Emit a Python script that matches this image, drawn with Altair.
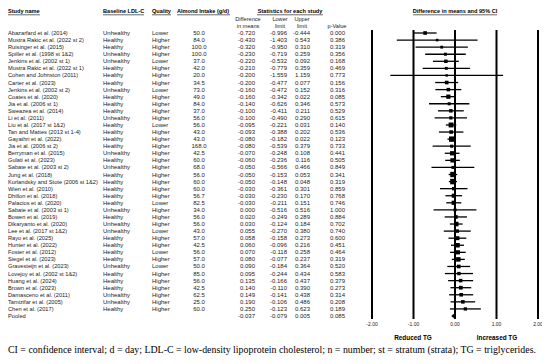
import altair as alt
import pandas as pd

studies = [
    "Abazarfard et al. (2014)", "Mustra Rakic et al. (2022 st 2)", "Ruisinger et al. (2015)",
    "Spiller et al. (1998 st 1&2)", "Jenkins et al. (2002 st 1)", "Mustra Rakic et al. (2022 st 1)",
    "Cohen and Johnston (2011)", "Carter et al. (2023)", "Jenkins et al. (2002 st 2)",
    "Coates et al. (2020)", "Jia et al. (2006 st 1)", "Sweazea et al. (2014)", "Li et al. (2011)",
    "Liu et al. (2017 st 1&2)", "Tan and Mattes (2013 st 1-4)", "Gayathri et al. (2022)",
    "Jia et al. (2006 st 2)", "Berryman et al. (2015)", "Gulati et al. (2023)",
    "Sabate et al. (2003 st 2)", "Jung et al. (2018)", "Kurlandsky and Stote (2006 st 1&2)",
    "Wien et al. (2010)", "Dhillon et al. (2018)", "Palacios et al. (2020)",
    "Sabate et al. (2003 st 1)", "Bowen et al. (2019)", "Dikaryanto et al. (2020)",
    "Lee et al. (2017 st 1&2)", "Rayo et al. (2025)", "Hunter et al. (2022)", "Foster et al. (2012)",
    "Siegel et al. (2023)", "Gravesteijn et al. (2023)", "Lovejoy et al. (2002 st 1&2)",
    "Huang et al. (2024)", "Brown et al. (2023)", "Damasceno et al. (2011)",
    "Tamizifar et al. (2005)", "Chen et al. (2017)",
]
baseline = [
    "Unhealthy", "Healthy", "Healthy", "Unhealthy", "Unhealthy", "Healthy", "Healthy", "Healthy",
    "Unhealthy", "Healthy", "Healthy", "Healthy", "Unhealthy", "Healthy", "Healthy", "Healthy",
    "Healthy", "Unhealthy", "Healthy", "Unhealthy", "Healthy", "Healthy", "Healthy", "Healthy",
    "Healthy", "Unhealthy", "Healthy", "Unhealthy", "Unhealthy", "Healthy", "Healthy", "Healthy",
    "Healthy", "Unhealthy", "Healthy", "Healthy", "Healthy", "Unhealthy", "Unhealthy", "Healthy",
]
quality = [
    "Lower", "Higher", "Higher", "Higher", "Lower", "Higher", "Higher", "Higher", "Lower", "Higher",
    "Higher", "Higher", "Higher", "Lower", "Higher", "Higher", "Higher", "Higher", "Higher", "Higher",
    "Higher", "Higher", "Higher", "Higher", "Lower", "Higher", "Higher", "Higher", "Lower", "Higher",
    "Higher", "Lower", "Higher", "Lower", "Higher", "Higher", "Higher", "Higher", "Higher", "Higher",
]
intake = [50.0, 84.0, 100.0, 100.0, 37.0, 42.0, 20.0, 34.5, 73.0, 49.0,
          84.0, 37.0, 56.0, 56.0, 43.0, 43.0, 168.0, 42.5, 60.0, 68.0,
          56.0, 60.0, 60.0, 56.7, 82.5, 34.0, 56.0, 56.0, 43.0, 57.0,
          42.5, 56.0, 57.0, 50.0, 85.0, 56.0, 42.5, 62.5, 25.0, 60.0]
diff = [-0.720, -0.430, -0.320, -0.230, -0.220, -0.210, -0.200, -0.200, -0.160, -0.160,
        -0.140, -0.100, -0.100, -0.095, -0.093, -0.080, -0.080, -0.070, -0.060, -0.050,
        -0.050, -0.050, -0.030, -0.030, -0.030, 0.000, 0.020, 0.030, 0.055, 0.058,
        0.060, 0.070, 0.080, 0.090, 0.095, 0.135, 0.140, 0.149, 0.190, 0.250]
lower = [-0.996, -1.403, -0.950, -0.719, -0.532, -0.779, -1.559, -0.477, -0.472, -0.342,
         -0.626, -0.411, -0.490, -0.221, -0.388, -0.182, -0.539, -0.248, -0.236, -0.566,
         -0.153, -0.148, -0.361, -0.230, -0.211, -0.516, -0.249, -0.124, -0.270, -0.158,
         -0.096, -0.118, -0.077, -0.184, -0.244, -0.166, -0.110, -0.141, -0.106, -0.123]
upper = [-0.444, 0.543, 0.310, 0.259, 0.092, 0.359, 1.159, 0.077, 0.152, 0.022,
         0.346, 0.211, 0.290, 0.031, 0.202, 0.022, 0.379, 0.108, 0.116, 0.466,
         0.053, 0.048, 0.301, 0.170, 0.151, 0.516, 0.289, 0.184, 0.380, 0.273,
         0.216, 0.258, 0.237, 0.364, 0.434, 0.437, 0.390, 0.438, 0.486, 0.623]
pvalue = [0.000, 0.386, 0.319, 0.356, 0.168, 0.469, 0.773, 0.156, 0.316, 0.085,
          0.573, 0.529, 0.615, 0.140, 0.536, 0.123, 0.733, 0.441, 0.505, 0.849,
          0.341, 0.319, 0.859, 0.768, 0.746, 1.000, 0.884, 0.702, 0.740, 0.600,
          0.451, 0.464, 0.319, 0.520, 0.583, 0.379, 0.273, 0.314, 0.208, 0.189]
pooled_diff, pooled_lower, pooled_upper, pooled_p = -0.037, -0.079, 0.005, 0.085

axis_ticks = [-2, -1, 0, 1, 2]
axis_labels = ["-2.00", "-1.00", "0.00", "1.00", "2.00"]

caption = ("CI = confidence interval; d = day; LDL-C = low-density lipoprotein cholesterol; "
           "n = number; st = stratum (strata); TG = triglycerides.")

# ---- tables ----
n = len(studies)
df = pd.DataFrame({"row": list(range(n)), "diff": diff, "lower": lower, "upper": upper})
df["w"] = 1.0 / (df["upper"] - df["lower"]) ** 2

tbl = pd.DataFrame({
    "row": list(range(n + 1)),
    "name": studies + ["Pooled"],
    "base": baseline + [""],
    "qual": quality + [""],
    "intake": [f"{v:.1f}" for v in intake] + [""],
    "d": [f"{v:.3f}" for v in diff + [pooled_diff]],
    "lo": [f"{v:.3f}" for v in lower + [pooled_lower]],
    "up": [f"{v:.3f}" for v in upper + [pooled_upper]],
    "p": [f"{v:.3f}" for v in pvalue + [pooled_p]],
})
pooled = pd.DataFrame({"row": [n], "diff": [pooled_diff]})
ticks = pd.DataFrame({"t": axis_ticks, "lab": axis_labels})

FONT = "Liberation Sans"
TXT = "#222222"
XS = alt.Scale(domain=[-2, 2], range=[364, 530])


def Y():
    return alt.Y("row:Q", scale=alt.Scale(domain=[0, n], range=[25, 308]), axis=None)


def col(field, x, align, size=6):
    return alt.Chart(tbl).mark_text(align=align, baseline="middle", fontSize=size, font=FONT,
                                    color=TXT).encode(x=alt.value(x), y=Y(), text=f"{field}:N")


dummy = pd.DataFrame({"a": [0]})


def label(text, x, y, align="center", bold=True, size=5.6, font=FONT, color="black"):
    return alt.Chart(dummy).mark_text(align=align, baseline="middle", fontSize=size, font=font,
                                      fontWeight="bold" if bold else "normal",
                                      color=color).encode(x=alt.value(x), y=alt.value(y),
                                                          text=alt.value(text))


def uline(x1, x2, y=6.8):
    return alt.Chart(dummy).mark_rule(color="black", strokeWidth=0.6).encode(
        x=alt.value(x1), x2=alt.value(x2), y=alt.value(y))


layers = [
    col("name", 0, "left", 5.7),
    col("base", 95, "left"),
    col("qual", 144, "left"),
    col("intake", 191, "center"),
    col("d", 247, "right"),
    col("lo", 279, "right"),
    col("up", 302, "right"),
    col("p", 337, "right"),
    label("Study name", 0, 3, "left"), uline(0, 32),
    label("Baseline LDL-C", 95, 3, "left"), uline(95, 136),
    label("Quality", 144, 3, "left"), uline(144, 163),
    label("Almond Intake (g/d)", 195, 3), uline(169, 222),
    label("Statistics for each study", 282, 3), uline(249, 315),
    label("Difference in means and 95% CI", 447, 3), uline(405, 489),
    label("Difference", 240, 11, bold=False, size=5.6, color=TXT),
    label("in means", 240, 18, bold=False, size=5.6, color=TXT),
    label("Lower", 272, 11, bold=False, size=5.6, color=TXT),
    label("limit", 272, 18, bold=False, size=5.6, color=TXT),
    label("Upper", 294, 11, bold=False, size=5.6, color=TXT),
    label("limit", 294, 18, bold=False, size=5.6, color=TXT),
    label("p-Value", 329, 18, bold=False, size=5.6, color=TXT),
    alt.Chart(ticks).mark_rule(color="black", strokeWidth=2).encode(
        x=alt.X("t:Q", scale=XS, axis=None), y=alt.value(22), y2=alt.value(311)),
    alt.Chart(ticks).mark_text(fontSize=5, font=FONT, color=TXT, baseline="middle").encode(
        x=alt.X("t:Q", scale=XS, axis=None), y=alt.value(316), text="lab:N"),
    alt.Chart(df).mark_rule(color="black", strokeWidth=1.3).encode(
        x=alt.X("lower:Q", scale=XS, axis=None), x2="upper:Q", y=Y()),
    alt.Chart(df).mark_point(shape="square", filled=True, color="black", opacity=1).encode(
        x=alt.X("diff:Q", scale=XS, axis=None), y=Y(),
        size=alt.Size("w:Q", scale=alt.Scale(type="sqrt", domain=[0, 26], range=[4, 30]),
                      legend=None)),
    alt.Chart(pooled).mark_point(shape="diamond", filled=True, color="black", opacity=1,
                                 size=18).encode(x=alt.X("diff:Q", scale=XS, axis=None), y=Y()),
    label("Reduced TG", 405, 330, size=6.4),
    label("Increased TG", 489, 330, size=6.4),
    label(caption, 0, 342, "left", bold=False, size=9.9, font="Liberation Serif", color="black"),
]

chart = alt.layer(*layers).properties(
    width=534, height=348, autosize="none", padding=0
).configure_view(stroke=None)

chart.save("out.html", embed_options={"renderer": "svg", "actions": False})
